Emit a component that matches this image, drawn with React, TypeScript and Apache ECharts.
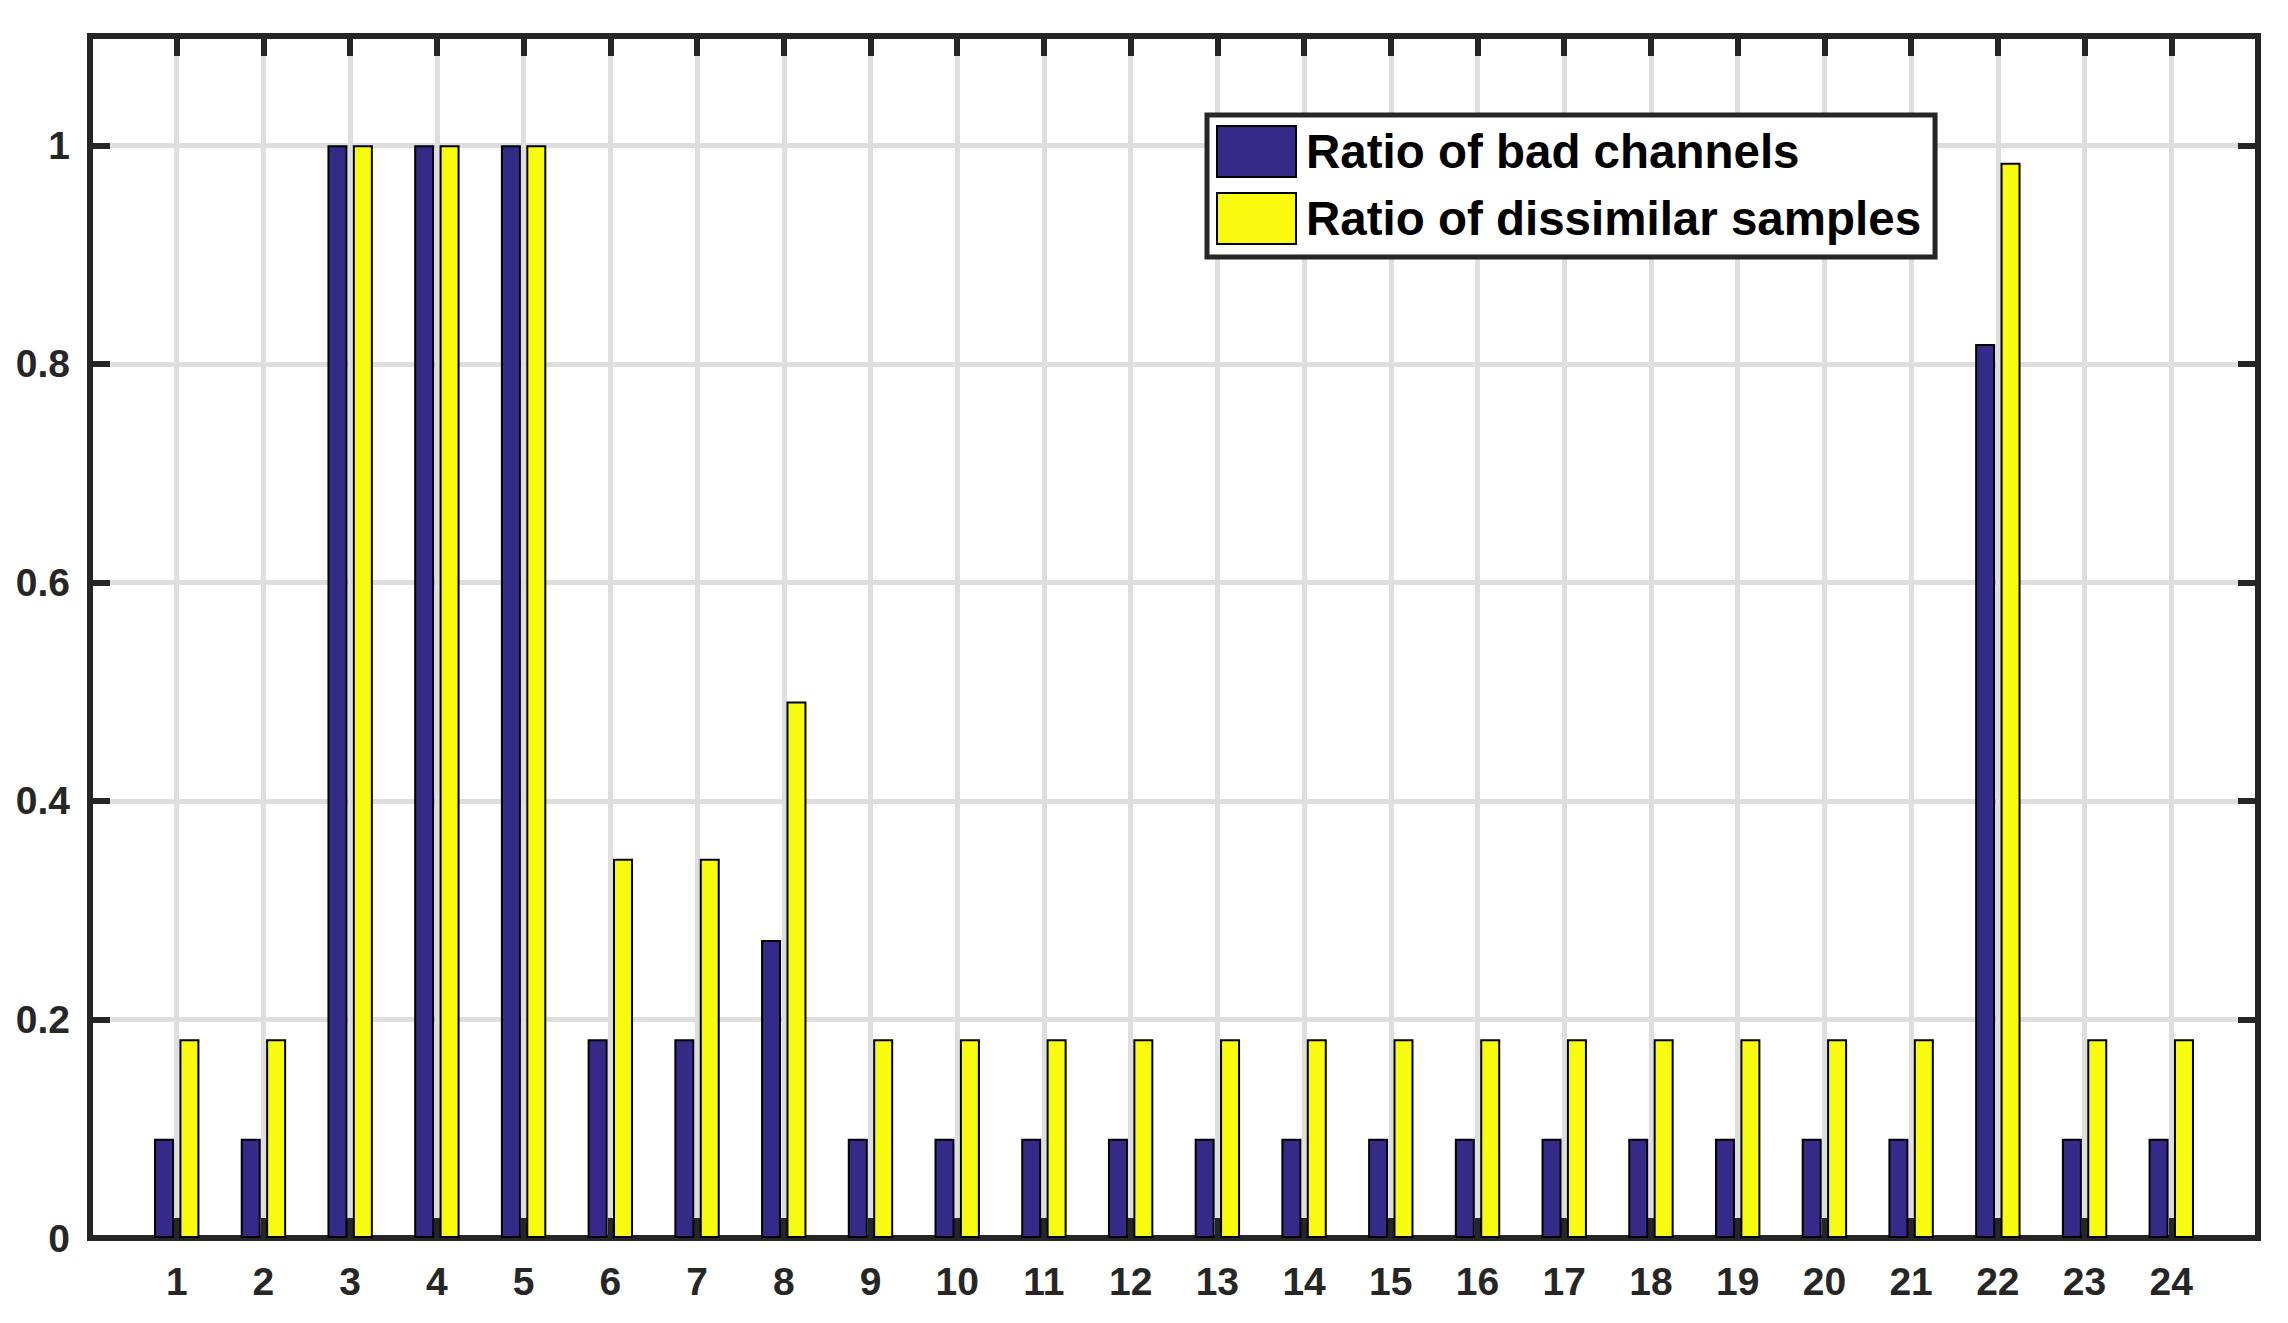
import React, { useEffect, useRef } from "react";
import * as echarts from "echarts";

// Channel indices shown on the horizontal axis
const channels = [1, 2, 3, 4, 5, 6, 7, 8, 9, 10, 11, 12, 13, 14, 15, 16, 17, 18, 19, 20, 21, 22, 23, 24];

// Fraction of bad channels per index
const badChannelRatio = [
  0.0909, 0.0909, 1, 1, 1, 0.1818, 0.1818, 0.2727, 0.0909, 0.0909, 0.0909, 0.0909,
  0.0909, 0.0909, 0.0909, 0.0909, 0.0909, 0.0909, 0.0909, 0.0909, 0.0909, 0.8182, 0.0909, 0.0909,
];

// Fraction of dissimilar samples per index
const dissimilarRatio = [
  0.1818, 0.1818, 1, 1, 1, 0.347, 0.347, 0.491, 0.1818, 0.1818, 0.1818, 0.1818,
  0.1818, 0.1818, 0.1818, 0.1818, 0.1818, 0.1818, 0.1818, 0.1818, 0.1818, 0.984, 0.1818, 0.1818,
];

const seriesNames = ["Ratio of bad channels", "Ratio of dissimilar samples"];

const AXIS_DARK = "#262626";
const GRID_GRAY = "#dedede";
const BLUE = "#352a87";
const YELLOW = "#f9fb0e";
const FONT = "'Liberation Sans', Arial, Helvetica, sans-serif";

export default function App() {
  const ref = useRef<HTMLDivElement>(null);

  useEffect(() => {
    if (!ref.current) return;
    const chart = echarts.init(ref.current, undefined, { renderer: "svg" });

    const tickStyle = { show: true, inside: true, length: 20, lineStyle: { color: AXIS_DARK, width: 6 } };
    const hiddenLine = { show: false, onZero: false };
    const labelStyle = { fontFamily: FONT, fontWeight: "bold" as const, fontSize: 39, color: AXIS_DARK };
    const gridLines = {
      show: true,
      showMinLine: false,
      showMaxLine: false,
      lineStyle: { color: GRID_GRAY, width: 5 },
    };

    chart.setOption({
      animation: false,
      backgroundColor: "#ffffff",
      grid: {
        left: 90,
        right: 30,
        top: 36,
        bottom: 85,
        show: true,
        borderColor: AXIS_DARK,
        borderWidth: 6,
        backgroundColor: "#ffffff",
        containLabel: false,
      },
      legend: {
        orient: "vertical",
        left: 1207,
        top: 115,
        icon: "rect",
        itemWidth: 79,
        itemHeight: 51,
        itemGap: 14,
        padding: [10, 14, 12, 9],
        backgroundColor: "#ffffff",
        borderColor: AXIS_DARK,
        borderWidth: 5,
        borderRadius: 0,
        selectedMode: false,
        textStyle: {
          fontFamily: FONT,
          fontWeight: "bold",
          fontSize: 47.5,
          color: "#000000",
          padding: [8, 0, 0, 5],
        },
        data: seriesNames,
      },
      xAxis: [
        {
          type: "value",
          position: "bottom",
          min: 0,
          max: 25,
          interval: 1,
          axisLine: hiddenLine,
          axisTick: tickStyle,
          axisLabel: {
            ...labelStyle,
            margin: 24,
            formatter: (v: number) => (v >= 1 && v <= 24 ? String(v) : ""),
          },
          splitLine: gridLines,
        },
        {
          type: "value",
          position: "top",
          min: 0,
          max: 25,
          interval: 1,
          axisLine: hiddenLine,
          axisTick: tickStyle,
          axisLabel: { show: false },
          splitLine: { show: false },
        },
      ],
      yAxis: [
        {
          type: "value",
          position: "left",
          min: 0,
          max: 1.1,
          interval: 0.2,
          axisLine: hiddenLine,
          axisTick: tickStyle,
          axisLabel: {
            ...labelStyle,
            margin: 20,
            formatter: (v: number) => (v > 1.05 ? "" : String(Number(v.toFixed(1)))),
          },
          splitLine: gridLines,
        },
        {
          type: "value",
          position: "right",
          min: 0,
          max: 1.1,
          interval: 0.2,
          axisLine: hiddenLine,
          axisTick: tickStyle,
          axisLabel: { show: false },
          splitLine: { show: false },
        },
      ],
      series: [
        {
          name: seriesNames[0],
          type: "bar",
          xAxisIndex: 0,
          yAxisIndex: 0,
          barWidth: 20,
          barGap: "27%",
          itemStyle: { color: BLUE, borderColor: "#000000", borderWidth: 2 },
          data: channels.map((c, i) => [c, badChannelRatio[i]]),
        },
        {
          name: seriesNames[1],
          type: "bar",
          xAxisIndex: 0,
          yAxisIndex: 0,
          barWidth: 20,
          barGap: "27%",
          itemStyle: { color: YELLOW, borderColor: "#000000", borderWidth: 2 },
          data: channels.map((c, i) => [c, dissimilarRatio[i]]),
        },
      ],
    });

    return () => chart.dispose();
  }, []);

  return (
    <div
      ref={ref}
      style={{ position: "fixed", left: 0, top: 0, width: 2288, height: 1323, background: "#ffffff" }}
    />
  );
}
